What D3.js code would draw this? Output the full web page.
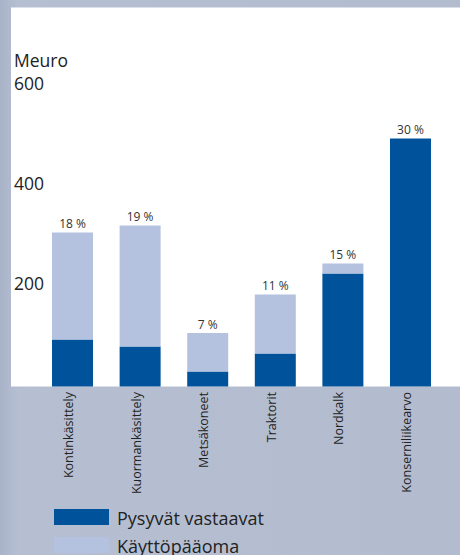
<!DOCTYPE html>
<html>
<head>
<meta charset="utf-8">
<script src="https://cdn.jsdelivr.net/npm/d3@7"></script>
<style>
  body { margin: 0; background: #b5bed1; }
  svg { display: block; font-family: 'Open Sans', sans-serif; }
</style>
</head>
<body>
<svg id="chart"></svg>
<script>
const categories = ['Kontinkäsittely', 'Kuormankäsittely', 'Metsäkoneet', 'Traktorit', 'Nordkalk', 'Konserniliikearvo'];
const pysyvat = [94, 80, 30, 66, 226, 496];
const kayttopaaoma = [214, 242, 77, 118, 20, 0];
const percents = ['18 %', '19 %', '7 %', '11 %', '15 %', '30 %'];
const yTicks = [200, 400, 600];
const seriesNames = ['Pysyvät vastaavat', 'Käyttöpääoma'];
const colors = ['#00529b', '#b4c2df'];

const width = 460;
const height = 555;

const svg = d3.select('#chart')
  .attr('width', width)
  .attr('height', height);

// background
const defs = svg.append('defs');
const grad = defs.append('linearGradient').attr('id', 'bg').attr('x1', 0).attr('x2', 1).attr('y1', 0).attr('y2', 0);
grad.append('stop').attr('offset', '0%').attr('stop-color', '#a9b3c8');
grad.append('stop').attr('offset', '4%').attr('stop-color', '#b6bfd2');
grad.append('stop').attr('offset', '100%').attr('stop-color', '#b3bccf');
svg.append('rect').attr('width', width).attr('height', height).attr('fill', 'url(#bg)');

const baseline = 386.5;
svg.append('rect')
  .attr('x', 11).attr('y', 7.5)
  .attr('width', width - 11).attr('height', baseline - 7.5)
  .attr('fill', '#fff');

const x = d3.scaleBand()
  .domain(categories)
  .range([38.5, 444.5])
  .paddingInner(0.3935)
  .paddingOuter(0.2);

const y = d3.scaleLinear()
  .domain([0, 600])
  .range([baseline, baseline - 300]);

const rows = categories.map((c, i) => ({ cat: c, a: pysyvat[i], b: kayttopaaoma[i] }));
const stack = d3.stack().keys(['a', 'b'])(rows);

svg.append('g').selectAll('g')
  .data(stack)
  .join('g')
  .attr('fill', (d, i) => colors[i])
  .selectAll('rect')
  .data(d => d)
  .join('rect')
  .attr('x', d => x(d.data.cat))
  .attr('y', d => y(d[1]))
  .attr('width', x.bandwidth())
  .attr('height', d => y(d[0]) - y(d[1]));

// percent labels
svg.append('g').selectAll('text')
  .data(rows)
  .join('text')
  .attr('x', d => x(d.cat) + x.bandwidth() / 2)
  .attr('y', d => y(d.a + d.b) - 4.5)
  .attr('text-anchor', 'middle')
  .attr('font-size', 12)
  .attr('fill', '#333')
  .text((d, i) => percents[i]);

// y axis labels
const yAxis = svg.append('g');
yAxis.selectAll('text')
  .data(yTicks)
  .join('text')
  .attr('x', 14)
  .attr('y', d => y(d) + 3)
  .attr('font-size', 17.5)
  .attr('fill', '#222')
  .text(d => d);
yAxis.append('text')
  .attr('x', 14)
  .attr('y', y(600) - 19.5)
  .attr('font-size', 17.5)
  .attr('fill', '#222')
  .text('Meuro');

// category labels
svg.append('g').selectAll('text')
  .data(categories)
  .join('text')
  .attr('transform', d => `translate(${x(d) + x.bandwidth() / 2 + 0.5}, ${baseline + 5.5}) rotate(-90)`)
  .attr('text-anchor', 'end')
  .attr('font-size', 12.5)
  .attr('fill', '#222')
  .text(d => d);

// legend
const legend = svg.append('g').attr('transform', 'translate(54, 509)');
seriesNames.forEach((name, i) => {
  legend.append('rect')
    .attr('x', 0).attr('y', i * 28)
    .attr('width', 55).attr('height', 16)
    .attr('fill', colors[i]);
  legend.append('text')
    .attr('x', 63).attr('y', i * 28 + 15.5)
    .attr('font-size', 18)
    .attr('fill', '#222')
    .text(name);
});
</script>
</body>
</html>
